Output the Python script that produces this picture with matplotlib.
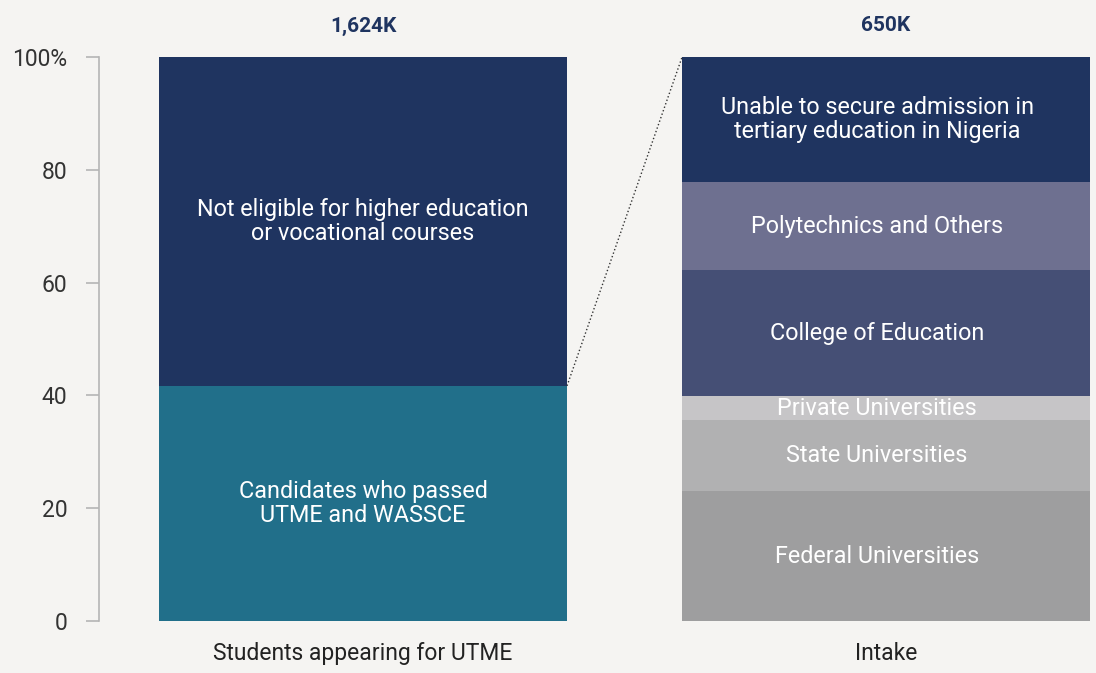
import numpy as np
import matplotlib.pyplot as plt

# bar categories and totals
categories = ['Students appearing for UTME', 'Intake']
totals = ['1,624K', '650K']

# left bar segments (share of students, %)
left_labels = ['Candidates who passed\nUTME and WASSCE',
               'Not eligible for higher education\nor vocational courses']
left_values = [41.7, 58.3]
left_colors = ['#216f8a', '#1f3460']

# right bar segments (share of intake, %)
right_labels = ['Federal Universities', 'State Universities', 'Private Universities',
                'College of Education', 'Polytechnics and Others',
                'Unable to secure admission in\ntertiary education in Nigeria']
right_values = [23.0, 12.6, 4.3, 22.3, 15.6, 22.2]
right_colors = ['#9e9e9f', '#b1b1b2', '#c6c5c7', '#454f75', '#6e7090', '#1f3460']

bg = '#f5f4f2'
font = ['Roboto', 'DejaVu Sans']
plt.rcParams['font.family'] = font

fig = plt.figure(figsize=(10.96, 6.73), dpi=100, facecolor=bg)
ax = fig.add_axes([99/1096, 1 - 621/673, 991/1096, 564/673])
ax.set_facecolor(bg)

width = 0.78
x = np.arange(len(categories))

bottom = 0
for val, lab, col in zip(left_values, left_labels, left_colors):
    ax.bar(x[0], val, width, bottom=bottom, color=col, linewidth=0)
    ax.text(x[0], bottom + val/2, lab, ha='center', va='center', color='white',
            fontsize=16.8, linespacing=1.08)
    bottom += val

bottom = 0
for val, lab, col in zip(right_values, right_labels, right_colors):
    ax.bar(x[1], val, width, bottom=bottom, color=col, linewidth=0)
    # labels in the intake bar sit a little left of centre
    ax.text(x[1] - 0.017, bottom + val/2, lab, ha='center', va='center', color='white',
            fontsize=16.8, linespacing=1.08)
    bottom += val

for xi, t in zip(x, totals):
    ax.text(xi, 100 + 5.5, t, ha='center', va='center', color='#1f3460',
            fontsize=15, fontweight='bold')

# connector from top of passed segment to top of intake bar
ax.plot([x[0] + width/2, x[1] - width/2], [left_values[0], 100], linestyle=':',
        color='#333333', linewidth=1, clip_on=False)

ax.set_xlim(-0.505, 1.39)
ax.set_ylim(0, 100)
ax.set_yticks([0, 20, 40, 60, 80, 100])
ax.set_yticklabels(['0', '20', '40', '60', '80', '100%'])
ax.set_xticks(x)
ax.set_xticklabels(categories)

for s in ['top', 'right', 'bottom']:
    ax.spines[s].set_visible(False)
ax.spines['left'].set_color('#b5b5b5')
ax.spines['left'].set_linewidth(1.2)
ax.tick_params(axis='y', length=9.4, width=1.2, color='#b5b5b5', labelcolor='#333333',
               labelsize=16.5, pad=13.5)
ax.tick_params(axis='x', length=0, labelcolor='#222222', labelsize=16.5, pad=15)

fig.savefig('out.png', dpi=100, facecolor=bg)
